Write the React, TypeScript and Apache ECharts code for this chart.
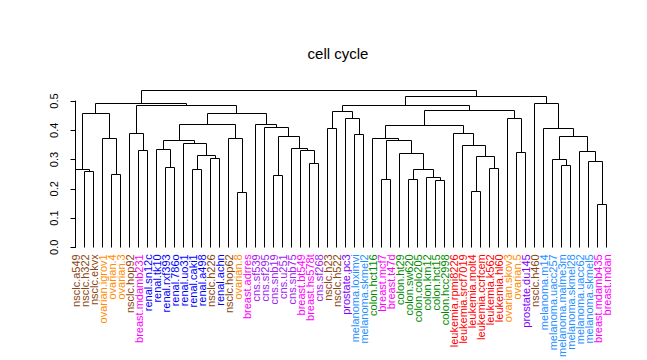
import React, { useEffect, useRef } from "react";
import * as echarts from "echarts";

const TITLE = "cell cycle";

// leaves in dendrogram order (left to right)
const leafLabels: string[] = [
  "nsclc.a549", "nsclc.h322", "nsclc.ekvx", "ovarian.igrov1", "ovarian.4", "ovarian.3",
  "nsclc.hop92", "breast.mdamb231", "renal.sn12c", "renal.tk10", "renal.rxf393", "renal.786o",
  "renal.uo31", "renal.caki1", "renal.a498", "nsclc.h226", "renal.achn", "nsclc.hop62",
  "ovarian.8", "breast.adrres", "cns.sf539", "cns.sf295", "cns.snb19", "cns.u251",
  "cns.snb75", "breast.bt549", "breast.hs578t", "cns.sf268", "nsclc.h23", "nsclc.h522",
  "prostate.pc3", "melanoma.loximvi", "melanoma.skmel2", "colon.hct116", "breast.mcf7", "breast.t47d",
  "colon.ht29", "colon.sw620", "colon.colo205", "colon.km12", "colon.hct15", "colon.hcc2998",
  "leukemia.rpmi8226", "leukemia.srcf7019", "leukemia.molt4", "leukemia.ccrfcem", "leukemia.k562", "leukemia.hl60",
  "ovarian.skov3", "ovarian.5", "prostate.du145", "nsclc.h460", "melanoma.m14", "melanoma.uacc257",
  "melanoma.malme3m", "melanoma.skmel28", "melanoma.uacc62", "melanoma.skmel5", "breast.mdamb435", "breast.mdan",
];

// hclust-style merges: negative = leaf (1-based, display order), positive = earlier merge (1-based)
const mergeLeft: number[] = [
  -2, -1, -5, -4, 2, -8, -7, -11, -10, -14,
  -16, 10, -13, 9, -19, -18, 14, -23, -27, -26,
  -25, 18, -22, -21, 17, 7, 5, -29, -32, -31,
  28, -35, -38, -41, -40, 33, -37, 32, -34, -45,
  -47, 40, -44, -43, 39, -50, -49, 45, 31, -55,
  -54, -59, -58, -57, 51, -53, -52, 49, 27,
];
const mergeRight: number[] = [
  -3, 1, -6, 3, 4, -9, 6, -12, 8, -15,
  -17, 11, 12, 13, -20, 15, 16, -24, -28, 19,
  20, 21, 22, 23, 24, 25, 26, -30, -33, 29,
  30, -36, -39, -42, 34, 35, 36, 37, 38, -46,
  -48, 41, 42, 43, 44, -51, 46, 47, 48, -56,
  50, -60, 52, 53, 54, 55, 56, 57, 58,
];
const mergeHeight: number[] = [
  0.258, 0.265, 0.248, 0.371, 0.456, 0.330, 0.388, 0.272, 0.333, 0.265,
  0.303, 0.313, 0.354, 0.364, 0.187, 0.371, 0.418, 0.244, 0.286, 0.332,
  0.339, 0.378, 0.408, 0.418, 0.456, 0.483, 0.490, 0.405, 0.384, 0.439,
  0.463, 0.231, 0.231, 0.228, 0.237, 0.265, 0.320, 0.364, 0.371, 0.190,
  0.269, 0.310, 0.347, 0.388, 0.415, 0.323, 0.439, 0.466, 0.483, 0.281,
  0.299, 0.146, 0.293, 0.327, 0.378, 0.405, 0.490, 0.514, 0.537,
];

const Y_MIN = 0;
const Y_MAX = 0.5;
const Y_STEP = 0.1;

const tissueColors: Record<string, string> = {
  nsclc: "#8B4513",
  ovarian: "#FF8C00",
  breast: "#FF00FF",
  renal: "#0000FF",
  cns: "#A020F0",
  prostate: "#8000FF",
  melanoma: "#1E90FF",
  colon: "#008B00",
  leukemia: "#FF0000",
};

function buildSegments(): number[][] {
  const nodeX: number[] = [];
  const nodeH: number[] = [];
  const pos = (ref: number): [number, number] =>
    ref < 0 ? [-ref - 1, 0] : [nodeX[ref - 1], nodeH[ref - 1]];
  const segs: number[][] = [];
  for (let i = 0; i < mergeHeight.length; i++) {
    const [xl, hl] = pos(mergeLeft[i]);
    const [xr, hr] = pos(mergeRight[i]);
    const h = mergeHeight[i];
    nodeX.push((xl + xr) / 2);
    nodeH.push(h);
    segs.push([xl, hl, xr, hr, h]);
  }
  return segs;
}

const FONT = "'Liberation Sans', Arial, Helvetica, sans-serif";

export default function App() {
  const ref = useRef<HTMLDivElement>(null);
  useEffect(() => {
    if (!ref.current) return;
    const chart = echarts.init(ref.current, undefined, { renderer: "svg" });
    const segs = buildSegments();
    const crisp = (v: number) => Math.round(v - 0.5) + 0.5;
    chart.setOption({
      animation: false,
      backgroundColor: "#fff",
      title: {
        text: TITLE,
        left: 338,
        top: 46,
        textAlign: "center",
        padding: 0,
        textStyle: { fontFamily: FONT, fontSize: 15, fontWeight: "normal", color: "#000" },
      },
      grid: { left: 71, width: 540, top: 101, height: 147, containLabel: false },
      xAxis: [
        {
          type: "value",
          min: -0.5,
          max: leafLabels.length - 0.5,
          show: false,
        },
        {
          type: "category",
          position: "bottom",
          data: leafLabels.map((l) => ({
            value: l,
            textStyle: { color: tissueColors[l.split(".")[0]] || "#000" },
          })),
          axisLine: { show: false },
          axisTick: { show: false },
          splitLine: { show: false },
          axisLabel: {
            rotate: 90,
            interval: 0,
            fontSize: 11,
            margin: 7,
            fontFamily: FONT,
          },
        },
      ],
      yAxis: {
        type: "value",
        min: Y_MIN,
        max: Y_MAX,
        interval: Y_STEP,
        offset: 4,
        axisLine: { show: true, lineStyle: { color: "#000", width: 1 } },
        axisTick: { show: true, length: 5, lineStyle: { color: "#000" } },
        splitLine: { show: false },
        axisLabel: {
          rotate: 90,
          fontSize: 11,
          color: "#000",
          margin: 8,
          fontFamily: FONT,
          formatter: (v: number) => v.toFixed(1),
        },
      },
      series: [
        {
          type: "custom",
          xAxisIndex: 0,
          yAxisIndex: 0,
          clip: false,
          data: segs,
          encode: { x: [0, 2], y: [1, 3, 4] },
          renderItem: (_params: any, api: any) => {
            const xl = api.value(0), hl = api.value(1);
            const xr = api.value(2), hr = api.value(3);
            const h = api.value(4);
            const p1 = api.coord([xl, hl]);
            const p2 = api.coord([xl, h]);
            const p3 = api.coord([xr, h]);
            const p4 = api.coord([xr, hr]);
            const pts = [p1, p2, p3, p4].map((p: number[]) => [crisp(p[0]), crisp(p[1])]);
            return {
              type: "polyline",
              shape: { points: pts },
              style: { stroke: "#000", lineWidth: 1, fill: "none" },
            };
          },
        },
      ],
    });
    return () => chart.dispose();
  }, []);
  return (
    <div
      ref={ref}
      style={{ position: "fixed", left: 0, top: 0, width: 647, height: 360, background: "#fff" }}
    />
  );
}
